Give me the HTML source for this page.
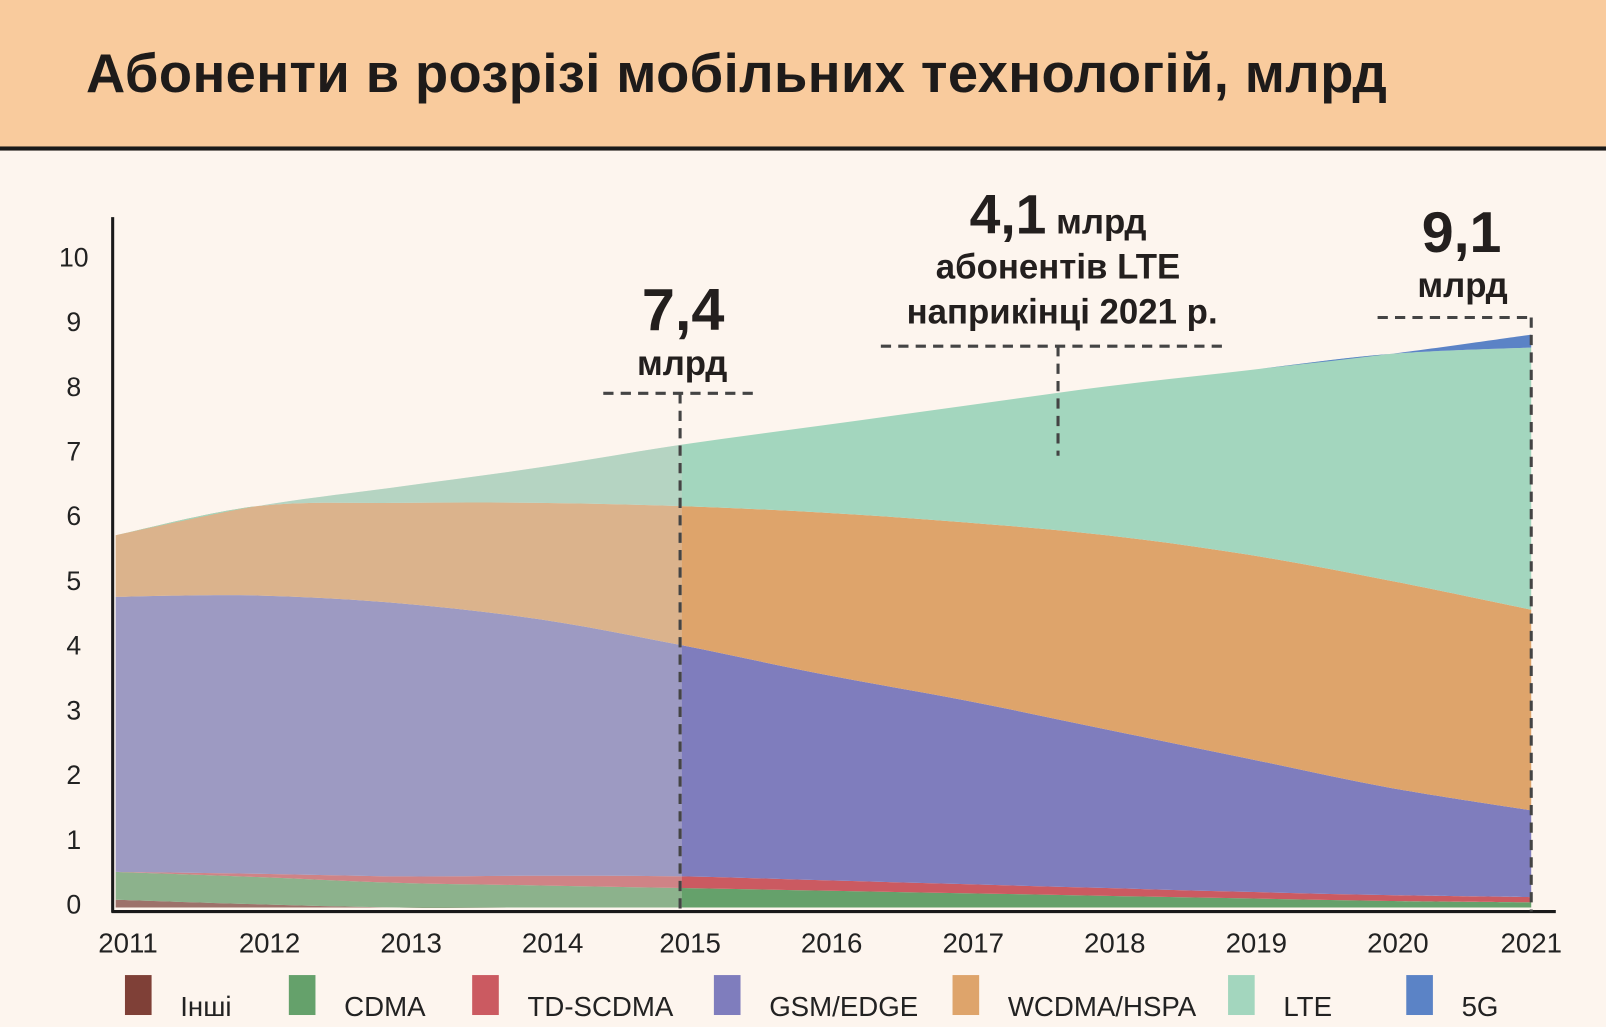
<!DOCTYPE html>
<html><head><meta charset="utf-8"><style>
html,body{margin:0;padding:0;background:#fdf5ee;}
body{width:1606px;height:1027px;overflow:hidden;position:relative;font-family:"Liberation Sans",sans-serif;}
#wrap{position:absolute;left:0;top:0;width:1568px;height:1003px;transform:scale(1.02423);transform-origin:0 0;}
#hdr{position:absolute;left:0;top:0;width:1568px;height:143px;background:#f9cb9d;border-bottom:4px solid #1a1a1a;}
#hdr h1{margin:0;position:absolute;left:84px;top:42px;font-size:53px;font-weight:bold;color:#1e1b1a;letter-spacing:0.4px;}
svg{position:absolute;left:0;top:0;}
</style></head><body>
<div id="wrap">
<div id="hdr"><h1>Абоненти в розрізі мобільних технологій, млрд</h1></div>
<svg id="chart" width="1568" height="1003"></svg>
</div>
<script>
const years=[2011,2012,2013,2014,2015,2016,2017,2018,2019,2020,2021];
const seriesNames=["Інші","CDMA","TD-SCDMA","GSM/EDGE","WCDMA/HSPA","LTE","5G"];
const others=[0.12,0.05,0,0,0,0,0,0,0,0,0];
const cdma=[0.43,0.42,0.38,0.34,0.3,0.26,0.22,0.18,0.14,0.1,0.08];
const tdscdma=[0,0.05,0.1,0.15,0.18,0.16,0.14,0.12,0.1,0.09,0.08];
const gsm=[4.25,4.3,4.22,3.96,3.57,3.18,2.84,2.45,2.06,1.66,1.34];
const wcdma=[0.95,1.38,1.55,1.8,2.15,2.5,2.75,3.0,3.15,3.2,3.1];
const lte=[0,0,0.25,0.55,0.95,1.35,1.8,2.3,2.85,3.5,4.05];
const g5=[0,0,0,0,0,0,0,0,0,0,0.2];
const yTicks=[0,1,2,3,4,5,6,7,8,9,10];
const colors=["#7f4037","#65a16b","#cb5a61","#7f7dbd","#dea46b","#a3d6be","#5b83c6"];
const NS="http://www.w3.org/2000/svg";
const svg=document.getElementById('chart');
function x(yr){return 113+(yr-2011)*138.2;}
function y(v){return 886-63.2*v;}
function el(t,a,parent){const e=document.createElementNS(NS,t);for(const k in a)e.setAttribute(k,a[k]);(parent||svg).appendChild(e);return e;}
function smooth(pts){let d="";for(let i=0;i<pts.length;i++){const p=pts[i];if(i===0){d+="M"+p[0]+","+p[1];continue;}const p0=pts[Math.max(0,i-2)],p1=pts[i-1],p3=pts[Math.min(pts.length-1,i+1)];const c1=[p1[0]+(p[0]-p0[0])/6,p1[1]+(p[1]-p0[1])/6],c2=[p[0]-(p3[0]-p1[0])/6,p[1]-(p3[1]-p1[1])/6];d+=" C"+c1[0]+","+c1[1]+" "+c2[0]+","+c2[1]+" "+p[0]+","+p[1];}return d;}
const defs=el('defs',{});
const cp=el('clipPath',{id:'hist'},defs);
el('rect',{x:0,y:0,width:x(2015),height:1003},cp);
const all=[others,cdma,tdscdma,gsm,wcdma,lte,g5];
let base=years.map(()=>0);
let totalD="";
all.forEach((s,i)=>{
  const tops=base.map((b,j)=>b+s[j]);
  const up=years.map((yr,j)=>[x(yr),y(tops[j])]);
  const dn=years.map((yr,j)=>[x(yr),y(base[j])]).reverse();
  const d=smooth(up)+" L"+smooth(dn).slice(1)+"Z";
  const p=el('path',{d:d,fill:colors[i]});
  
  
  base=tops;
  if(i===all.length-1) totalD=smooth(up)+" L"+x(2021)+","+y(0)+" L"+x(2011)+","+y(0)+"Z";
});
const fade=el('path',{d:totalD,fill:"#d8d2cc",opacity:0.35,"clip-path":"url(#hist)"});


const ya=el('line',{x1:110,y1:212,x2:110,y2:891,stroke:"#1a1a1a","stroke-width":3});


const xa=el('line',{x1:109,y1:890,x2:1519,y2:890,stroke:"#1a1a1a","stroke-width":3});


yTicks.forEach(v=>{
  const t=el('text',{x:72,y:y(v)+6,"text-anchor":"middle","font-size":26,fill:"#222","font-family":"Liberation Sans Narrow, Liberation Sans, sans-serif"});
  t.textContent=v;
  
  
});
years.forEach(yr=>{
  const t=el('text',{x:x(yr)+(yr<2015?12:(yr===2021?0:8)),y:930,"text-anchor":"middle","font-size":27,fill:"#222","font-family":"Liberation Sans Narrow, Liberation Sans, sans-serif"});
  t.textContent=yr;
  
  
});
function dash(x1,y1,x2,y2,name){const l=el('line',{x1:x1,y1:y1,x2:x2,y2:y2,stroke:"#444","stroke-width":3,"stroke-dasharray":"10,7"});}
dash(589,384,740,384,'annotation-2015-hline');
dash(664,384,664,890,'annotation-2015-vline');
dash(860,338,1195,338,'annotation-lte-hline');
dash(1033,338,1033,445,'annotation-lte-vline');
dash(1345,310,1495,310,'annotation-2021-hline');
dash(1495,310,1495,890,'annotation-2021-vline');
function txt(s,xx,yy,size,name){const t=el('text',{x:xx,y:yy,"text-anchor":"middle","font-size":size,"font-weight":"bold",fill:"#231f1e"});t.textContent=s;return t;}
txt("7,4",667,322,58,'annotation-2015-value');
txt("млрд",666,366,34,'annotation-2015-unit');
const t41=el('text',{x:1033,y:228,"text-anchor":"middle","font-weight":"bold",fill:"#231f1e"});


t41.innerHTML='<tspan font-size="54">4,1</tspan><tspan font-size="34"> млрд</tspan>';
txt("абонентів LTE",1033,272,34,'annotation-lte-text1');
txt("наприкінці 2021 р.",1037,316,34,'annotation-lte-text2');
txt("9,1",1427,246,56,'annotation-2021-value');
txt("млрд",1428,290,34,'annotation-2021-unit');
const legX=[122,282,461,697,930,1199,1373];
seriesNames.forEach((n,i)=>{
  const r=el('rect',{x:legX[i],y:952,width:26,height:39,fill:colors[i]});
  
  
  const t=el('text',{x:legX[i]+54,y:992,"font-size":27,fill:"#222","font-family":"Liberation Sans Narrow, Liberation Sans, sans-serif"});
  t.textContent=n;
  
  
});
</script>
</body></html>
